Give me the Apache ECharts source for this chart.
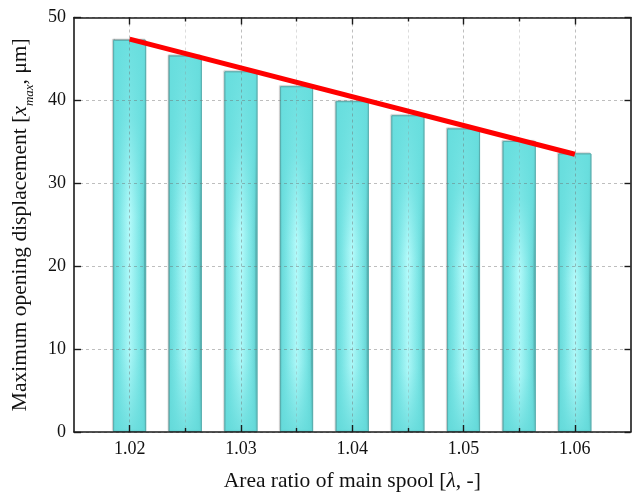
<!DOCTYPE html>
<html>
<head>
<meta charset="utf-8">
<script src="https://cdn.jsdelivr.net/npm/echarts@6/dist/echarts.min.js"></script>
<style>
  html, body { margin: 0; padding: 0; background: #ffffff; }
  #chart { width: 637px; height: 496px; }
</style>
</head>
<body>
<div id="chart"></div>
<script>
// Area ratio of the main spool (lambda); the axis runs half a step past each end
const axisCategories = ['1.015', '1.020', '1.025', '1.030', '1.035', '1.040', '1.045',
                        '1.050', '1.055', '1.060', '1.065'];
const lambdaValues = ['1.020', '1.025', '1.030', '1.035', '1.040', '1.045', '1.050', '1.055', '1.060'];
// Maximum opening displacement x_max in micrometres
const xMaxValues = [47.3, 45.4, 43.5, 41.7, 39.9, 38.2, 36.6, 35.1, 33.6];
// Trend line end points (at lambda = 1.020 and 1.060)
const trendStart = 47.4;
const trendEnd = 33.5;
const xTickLabels = ['1.02', '1.03', '1.04', '1.05', '1.06'];
const yTicks = [0, 10, 20, 30, 40, 50];

// Map series values onto the padded category axis
const barData = axisCategories.map(c => {
  const i = lambdaValues.indexOf(c);
  return i >= 0 ? xMaxValues[i] : null;
});
const trendData = axisCategories.map(c => {
  if (c === lambdaValues[0]) return trendStart;
  if (c === lambdaValues[lambdaValues.length - 1]) return trendEnd;
  return null;
});

const FONT = '"Liberation Serif", "Times New Roman", serif';
const TITLE_SIZE = 21.5;
const last = axisCategories.length - 1;
const isMajor = i => i % 2 === 1;
const isMinor = i => i % 2 === 0 && i !== 0 && i !== last;
const gridDash = { color: 'rgba(110,110,110,0.45)', width: 1, type: [3, 3] };
const gridDashLight = { color: 'rgba(140,140,140,0.3)', width: 1, type: [3, 3] };
const frameLine = { show: true, lineStyle: { color: '#1a1a1a', width: 1.6 } };

function xAxisDef(position, major, withLabels) {
  return {
    type: 'category',
    data: axisCategories,
    boundaryGap: false,
    position: position,
    z: 3,
    axisLine: major ? frameLine : { show: false },
    axisTick: {
      show: true, inside: true, length: major ? 7 : 4,
      interval: (i) => major ? isMajor(i) : isMinor(i),
      lineStyle: { color: '#1a1a1a', width: 1.4 }
    },
    axisLabel: withLabels ? {
      show: true,
      interval: (i) => isMajor(i),
      formatter: (v, i) => isMajor(i) ? xTickLabels[(i - 1) / 2] : '',
      color: '#111', fontFamily: FONT, fontSize: 18, margin: 8
    } : { show: false },
    splitLine: position === 'bottom' ? {
      show: true,
      interval: (i) => major ? isMajor(i) : isMinor(i),
      lineStyle: major ? gridDash : gridDashLight
    } : { show: false }
  };
}

const chart = echarts.init(document.getElementById('chart'), null, { renderer: 'canvas' });
chart.setOption({
  backgroundColor: '#ffffff',
  animation: false,
  grid: { left: 74, right: 6.5, top: 17.5, bottom: 64, containLabel: false, outerBoundsMode: 'none' },
  xAxis: [
    Object.assign(xAxisDef('bottom', true, true), {
      name: '{a|Area ratio of main spool [}{i|λ}{a|, -]}',
      nameLocation: 'middle',
      nameGap: 38,
      nameTextStyle: {
        rich: {
          a: { fontFamily: FONT, fontSize: TITLE_SIZE, color: '#111' },
          i: { fontFamily: FONT, fontSize: TITLE_SIZE, fontStyle: 'italic', color: '#111' }
        }
      }
    }),
    xAxisDef('bottom', false, false),
    xAxisDef('top', true, false),
    xAxisDef('top', false, false)
  ],
  yAxis: [
    {
      type: 'value', min: yTicks[0], max: yTicks[yTicks.length - 1], interval: 10,
      position: 'left', z: 3,
      axisLine: frameLine,
      axisTick: { show: true, inside: true, length: 7, lineStyle: { color: '#1a1a1a', width: 1.4 } },
      axisLabel: { color: '#111', fontFamily: FONT, fontSize: 18, margin: 8 },
      splitLine: { show: true, lineStyle: gridDash },
      name: '{a|Maximum opening displacement [}{i|x}{s|max}{a|, μm]}',
      nameLocation: 'middle',
      nameGap: 41,
      nameTextStyle: {
        rich: {
          a: { fontFamily: FONT, fontSize: TITLE_SIZE, color: '#111', lineHeight: 26 },
          i: { fontFamily: FONT, fontSize: TITLE_SIZE, fontStyle: 'italic', color: '#111', lineHeight: 26 },
          s: { fontFamily: FONT, fontSize: 13, fontStyle: 'italic', color: '#111', lineHeight: 26,
               verticalAlign: 'bottom', padding: [0, 0, -3, 0] }
        }
      }
    },
    {
      type: 'value', min: yTicks[0], max: yTicks[yTicks.length - 1], interval: 10,
      position: 'right', z: 3,
      axisLine: frameLine,
      axisTick: { show: true, inside: true, length: 6, lineStyle: { color: '#1a1a1a', width: 1.4 } },
      axisLabel: { show: false },
      splitLine: { show: false }
    }
  ],
  series: [
    {
      // base fill: bright stripe down the middle of each bar
      type: 'bar', xAxisIndex: 0, yAxisIndex: 0, data: barData, barWidth: 33, z: 2,
      itemStyle: {
        color: new echarts.graphic.LinearGradient(0, 0, 1, 0, [
          { offset: 0, color: '#62d6d6' },
          { offset: 0.2, color: '#7ee6e6' },
          { offset: 0.5, color: '#b8fcfc' },
          { offset: 0.8, color: '#7ee6e6' },
          { offset: 1, color: '#5ccccc' }
        ]),
        borderColor: '#5aaeae', borderWidth: 1,
        shadowColor: 'rgba(0,0,0,0.25)', shadowBlur: 1, shadowOffsetX: -1, shadowOffsetY: -1
      }
    },
    {
      // overlay: deeper cyan towards the top and bottom ends
      type: 'bar', xAxisIndex: 0, yAxisIndex: 0, data: barData, barWidth: 33, barGap: '-100%', z: 2,
      itemStyle: {
        color: new echarts.graphic.LinearGradient(0, 0, 0, 1, [
          { offset: 0, color: 'rgba(104,222,222,0.95)' },
          { offset: 0.2, color: 'rgba(104,222,222,0.75)' },
          { offset: 0.45, color: 'rgba(104,222,222,0.05)' },
          { offset: 0.8, color: 'rgba(104,222,222,0.15)' },
          { offset: 1, color: 'rgba(100,218,218,0.85)' }
        ]),
        borderColor: '#5aaeae', borderWidth: 1
      }
    },
    {
      type: 'line', xAxisIndex: 0, yAxisIndex: 0, data: trendData, connectNulls: true,
      symbol: 'none', z: 10,
      lineStyle: { color: '#ff0000', width: 5 }
    }
  ]
});
</script>
</body>
</html>
